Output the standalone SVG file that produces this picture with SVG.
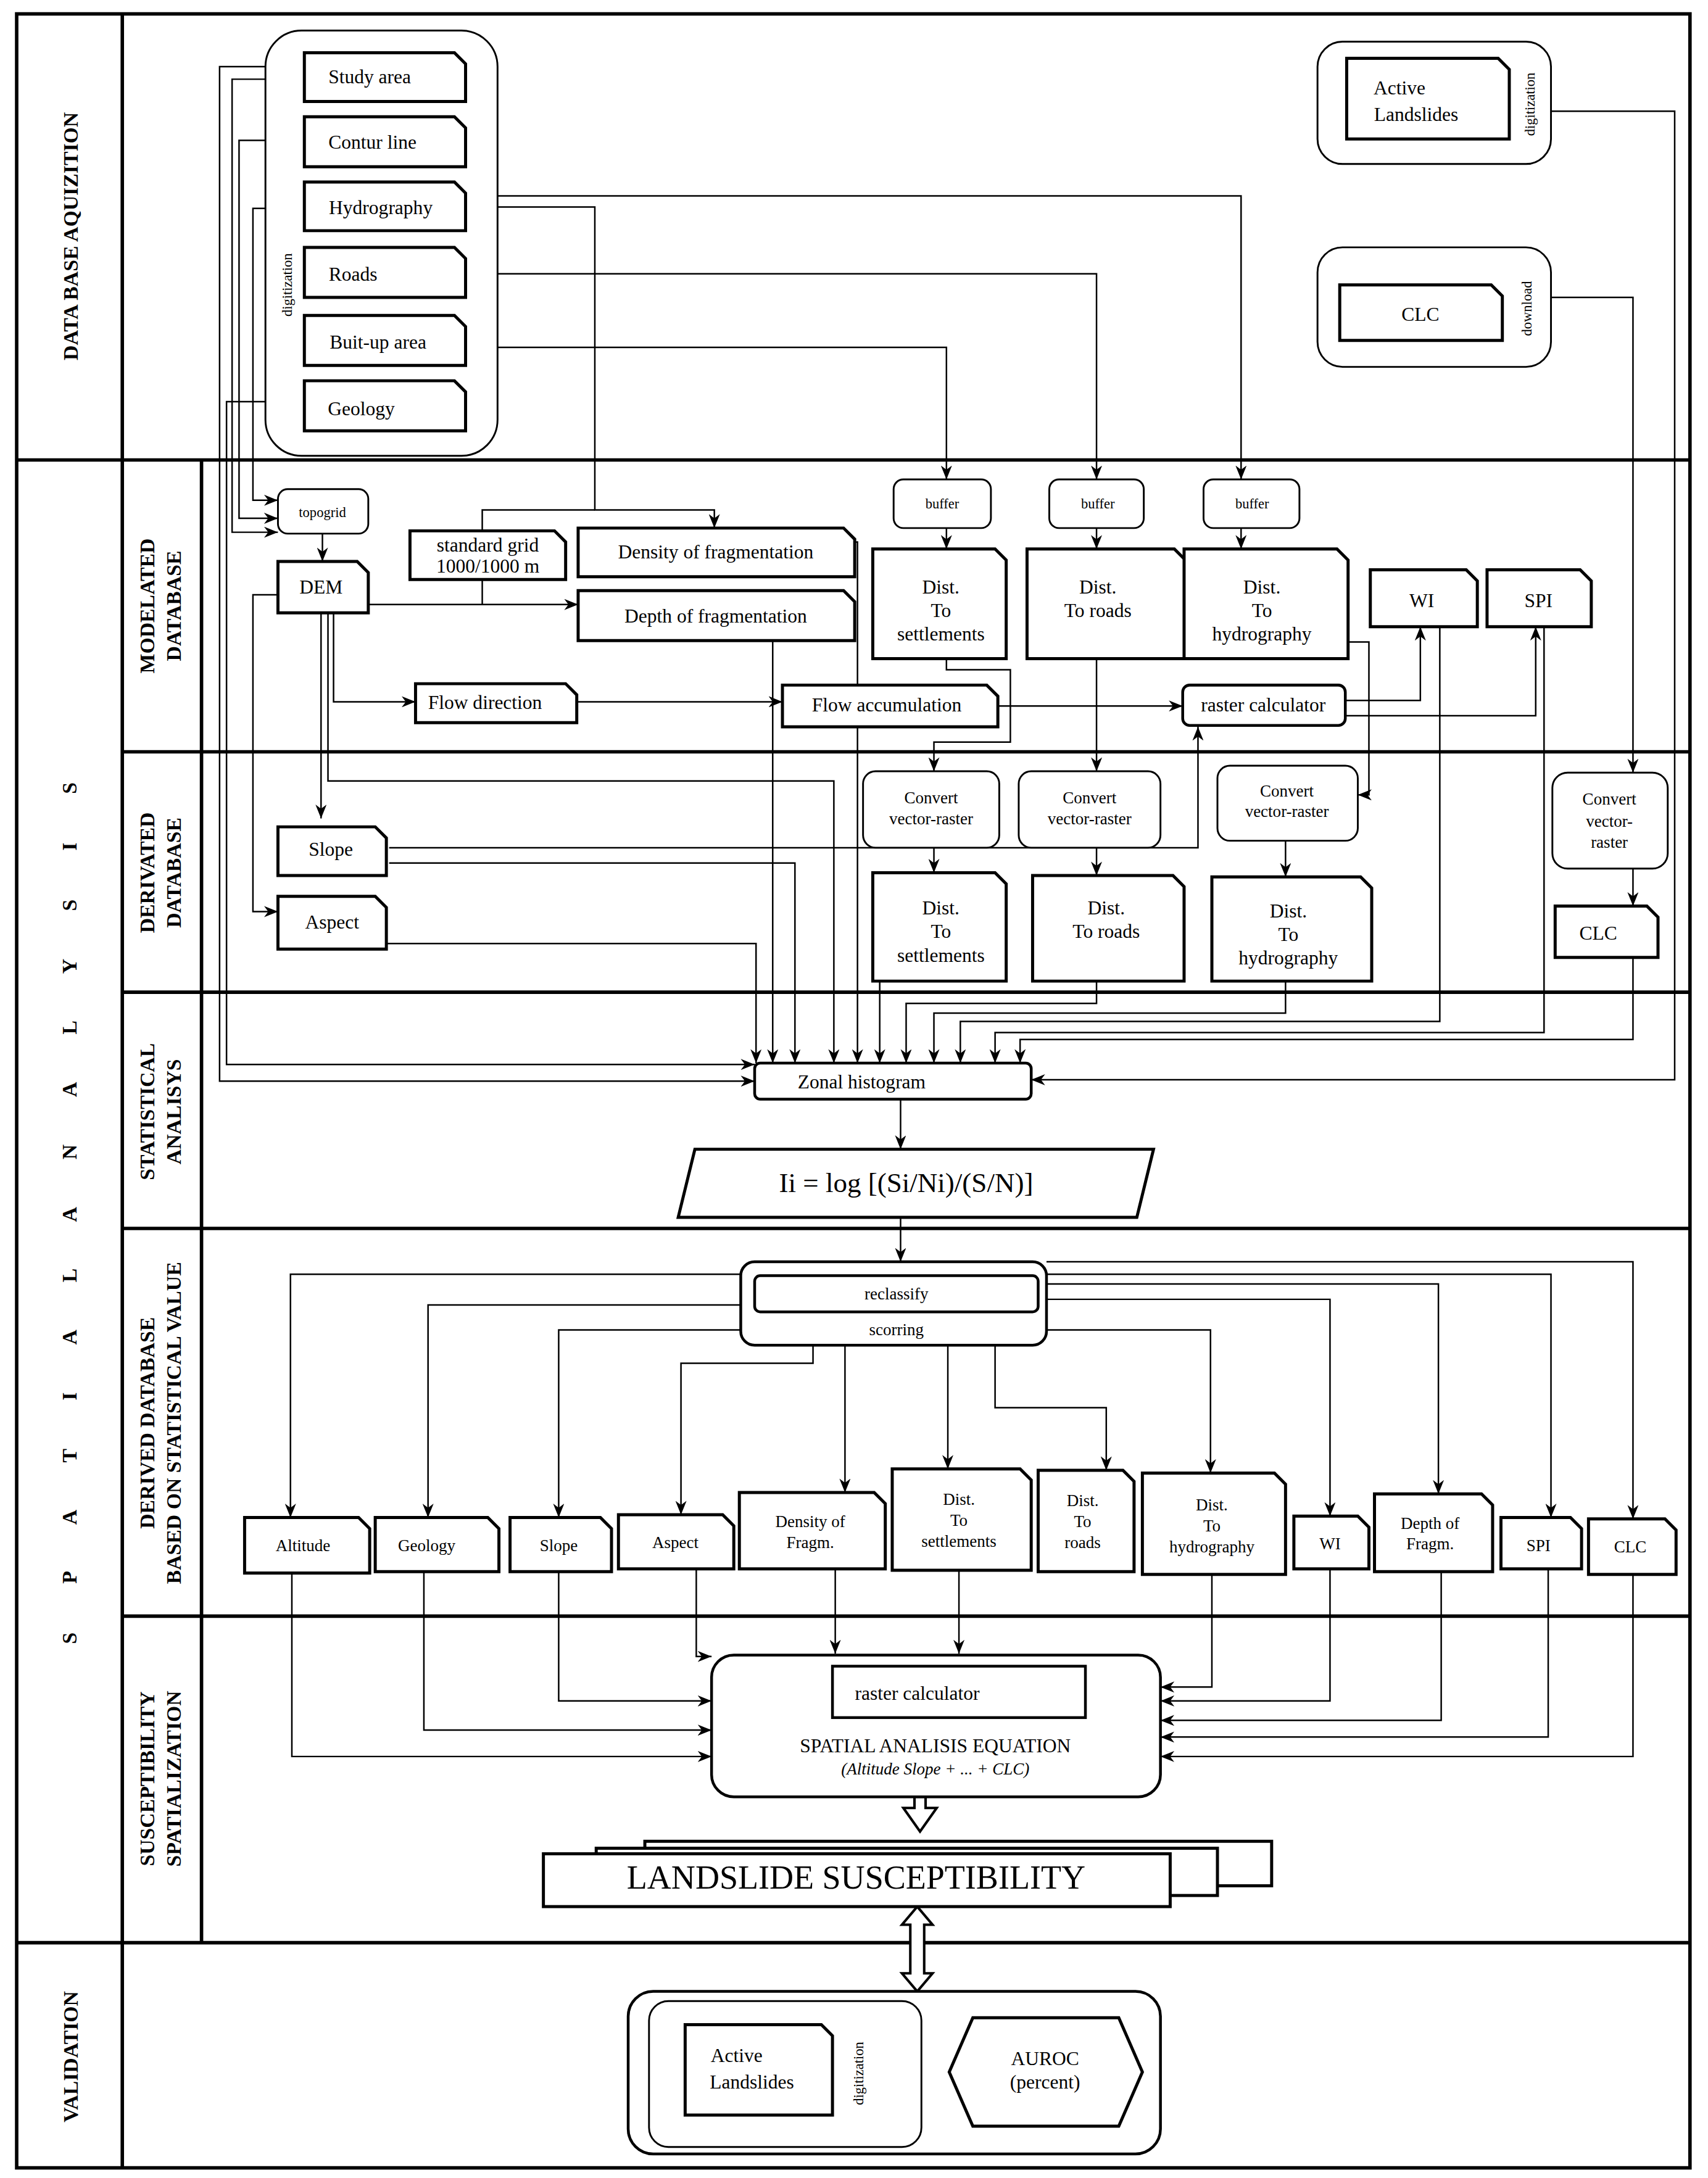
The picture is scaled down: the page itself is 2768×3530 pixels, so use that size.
<svg xmlns="http://www.w3.org/2000/svg" width="2768" height="3530" viewBox="0 0 2768 3530">
<defs>
<marker id="a" viewBox="0 0 10 8" markerWidth="10" markerHeight="8" refX="10" refY="4" orient="auto" markerUnits="userSpaceOnUse"><path d="M0,0 L10,4 L0,8 L3,4 Z" fill="#000"/></marker>
<style>
text{font-family:"Liberation Serif","Times New Roman",serif;fill:#000;text-anchor:middle}
.lab{font-weight:bold;font-size:15px}
.n{font-size:14px}
.s{font-size:12px}
.xs{font-size:10px}
.card{fill:#fff;stroke:#000;stroke-width:2.2}
.rr{fill:#fff;stroke:#000;stroke-width:1.3}
.rb{fill:#fff;stroke:#000;stroke-width:2}
.c path,.c line,.c polyline{fill:none;stroke:#000;stroke-width:1.1}
.ar{marker-end:url(#a)}
.frame{fill:none;stroke:#000;stroke-width:2.5}
</style>
</defs>
<rect width="2768" height="3530" fill="#fff"/>
<g transform="scale(2.25228)">
<g id="frame" class="frame">
<rect x="12" y="10" width="1204" height="1550"/>
<line x1="88" y1="10" x2="88" y2="1560"/>
<line x1="145" y1="331" x2="145" y2="1398"/>
<line x1="12" y1="331" x2="1216" y2="331"/>
<line x1="88" y1="541" x2="1216" y2="541"/>
<line x1="88" y1="714" x2="1216" y2="714"/>
<line x1="88" y1="884" x2="1216" y2="884"/>
<line x1="88" y1="1163" x2="1216" y2="1163"/>
<line x1="12" y1="1398" x2="1216" y2="1398"/>
</g>
<g id="labels" class="lab">
<text transform="translate(56,170) rotate(-90)">DATA BASE AQUIZITION</text>
<text transform="translate(55,873) rotate(-90)" textLength="620" lengthAdjust="spacing">S P A T I A L   A N A L Y S I S</text>
<text transform="translate(56,1480) rotate(-90)">VALIDATION</text>
<text transform="translate(111,436) rotate(-90)">MODELATED</text>
<text transform="translate(130,436) rotate(-90)">DATABASE</text>
<text transform="translate(111,628) rotate(-90)">DERIVATED</text>
<text transform="translate(130,628) rotate(-90)">DATABASE</text>
<text transform="translate(111,800) rotate(-90)">STATISTICAL</text>
<text transform="translate(130,800) rotate(-90)">ANALISYS</text>
<text transform="translate(111,1024) rotate(-90)">DERIVED DATABASE</text>
<text transform="translate(130,1024) rotate(-90)">BASED ON STATISTICAL VALUE</text>
<text transform="translate(111,1280) rotate(-90)">SUSCEPTIBILITY</text>
<text transform="translate(130,1280) rotate(-90)">SPATIALIZATION</text>
</g>

<g id="connectors" class="c">
<!-- left inputs -->
<polyline class="ar" points="219,48 158,48 158,778 543,778"/>
<polyline class="ar" points="219,57 167,57 167,383 200,383"/>
<polyline class="ar" points="219,101 172,101 172,373 200,373"/>
<polyline class="ar" points="219,150 182,150 182,360 200,360"/>
<polyline class="ar" points="219,289 163,289 163,766 543,766"/>
<polyline class="ar" points="335,149 428,149 428,367 514,367 514,380"/>
<polyline points="347,382 347,367 428,367"/>
<polyline class="ar" points="335,141 893,141 893,345"/>
<polyline class="ar" points="335,197 789,197 789,345"/>
<polyline class="ar" points="335,250 681,250 681,345"/>
<polyline class="ar" points="1116,80 1205,80 1205,777 742,777"/>
<polyline class="ar" points="1116,214 1175,214 1175,556"/>
<!-- modelated -->
<line class="ar" x1="232" y1="384" x2="232" y2="404"/>
<polyline class="ar" points="265,435 416,435"/>
<polyline points="347,417 347,435"/>
<polyline class="ar" points="200,428 182,428 182,656 200,656"/>
<polyline class="ar" points="231,441 231,589"/>
<polyline class="ar" points="236,441 236,562 600,562 600,765"/>
<polyline class="ar" points="240,441 240,505 299,505"/>
<polyline class="ar" points="415,505 563,505"/>
<polyline class="ar" points="718,508 851,508"/>
<polyline class="ar" points="968,504 1022,504 1022,451"/>
<polyline class="ar" points="968,515 1105,515 1105,451"/>
<line class="ar" x1="681" y1="380" x2="681" y2="395"/>
<line class="ar" x1="789" y1="380" x2="789" y2="395"/>
<line class="ar" x1="893" y1="380" x2="893" y2="395"/>
<polyline class="ar" points="681,474 681,482 727,482 727,534 672,534 672,555"/>
<line class="ar" x1="789" y1="474" x2="789" y2="555"/>
<polyline class="ar" points="970,462 985,462 985,572 977,572"/>
<polyline class="ar" points="556,461 556,765"/>
<polyline class="ar" points="615,390 617,390 617,765"/>
<!-- derivated -->
<polyline class="ar" points="280,610 862,610 862,523"/>
<polyline class="ar" points="280,621 572,621 572,765"/>
<polyline class="ar" points="278,679 544,679 544,765"/>
<line class="ar" x1="672" y1="610" x2="672" y2="628"/>
<line class="ar" x1="789" y1="610" x2="789" y2="630"/>
<line class="ar" x1="925" y1="605" x2="925" y2="631"/>
<line class="ar" x1="1175" y1="625" x2="1175" y2="652"/>
<polyline class="ar" points="633,706 633,765"/>
<polyline class="ar" points="789,706 789,722 652,722 652,765"/>
<polyline class="ar" points="925,706 925,729 672,729 672,765"/>
<polyline class="ar" points="1036,451 1036,735 691,735 691,765"/>
<polyline class="ar" points="1111,451 1111,743 716,743 716,765"/>
<polyline class="ar" points="1175,689 1175,748 734,748 734,765"/>
<line class="ar" x1="648" y1="791" x2="648" y2="827"/>
<line class="ar" x1="648" y1="876" x2="648" y2="908"/>
<!-- reclassify outputs -->
<polyline class="ar" points="533,917 209,917 209,1092"/>
<polyline class="ar" points="533,939 308,939 308,1092"/>
<polyline class="ar" points="533,957 402,957 402,1092"/>
<polyline class="ar" points="585,968 585,981 490,981 490,1090"/>
<polyline class="ar" points="608,968 608,1074"/>
<polyline class="ar" points="682,968 682,1057"/>
<polyline class="ar" points="716,968 716,1013 796,1013 796,1058"/>
<polyline class="ar" points="753,957 871,957 871,1060"/>
<polyline class="ar" points="753,935 957,935 957,1091"/>
<polyline class="ar" points="753,924 1035,924 1035,1075"/>
<polyline class="ar" points="753,917 1116,917 1116,1092"/>
<polyline class="ar" points="753,908 1175,908 1175,1093"/>
<!-- into raster calculator -->
<polyline class="ar" points="501,1129 501,1192 512,1192"/>
<line class="ar" x1="601" y1="1129" x2="601" y2="1190"/>
<line class="ar" x1="690" y1="1130" x2="690" y2="1190"/>
<polyline class="ar" points="402,1131 402,1224 512,1224"/>
<polyline class="ar" points="305,1131 305,1245 512,1245"/>
<polyline class="ar" points="210,1132 210,1264 512,1264"/>
<polyline class="ar" points="872,1133 872,1214 835,1214"/>
<polyline class="ar" points="957,1129 957,1224 835,1224"/>
<polyline class="ar" points="1037,1131 1037,1238 835,1238"/>
<polyline class="ar" points="1114,1129 1114,1250 835,1250"/>
<polyline class="ar" points="1175,1133 1175,1264 835,1264"/>
<polyline class="ar" points="599,1490 683,1490"/>
</g>
<g id="bigarrows" fill="#fff" stroke="#000" stroke-width="1.8">
<path d="M658,1293 H666 V1301 H674 L662,1318 L650,1301 H658 Z"/>
<path d="M660,1372 L671,1385 H665 V1420 H671 L660,1433 L649,1420 H655 V1385 H649 Z"/>
</g>

<g id="acq">
<rect x="191" y="22" width="167" height="306" rx="26" class="rr"/>
<text class="xs" transform="translate(210,205) rotate(-90)">digitization</text>
<path class="card" d="M219,38 H327 L335,46 V73 H219 Z"/><text class="n" x="266" y="60">Study area</text>
<path class="card" d="M219,84 H327 L335,92 V120 H219 Z"/><text class="n" x="268" y="107">Contur line</text>
<path class="card" d="M219,131 H327 L335,139 V166 H219 Z"/><text class="n" x="274" y="154">Hydrography</text>
<path class="card" d="M219,178 H327 L335,186 V214 H219 Z"/><text class="n" x="254" y="202">Roads</text>
<path class="card" d="M219,227 H327 L335,235 V263 H219 Z"/><text class="n" x="272" y="251">Buit-up area</text>
<path class="card" d="M219,274 H327 L335,282 V310 H219 Z"/><text class="n" x="260" y="299">Geology</text>
</g>
<g id="active1">
<rect x="948" y="30" width="168" height="88" rx="18" class="rr"/>
<path class="card" d="M969,42 H1078 L1086,50 V100 H969 Z"/>
<text class="n" x="1007" y="68">Active</text><text class="n" x="1019" y="87">Landslides</text>
<text class="xs" transform="translate(1104,75) rotate(-90)">digitization</text>
</g>
<g id="clc1">
<rect x="948" y="178" width="168" height="86" rx="18" class="rr"/>
<path class="card" d="M964,205 H1073 L1081,213 V245 H964 Z"/>
<text class="n" x="1022" y="231">CLC</text>
<text class="xs" transform="translate(1102,222) rotate(-90)">download</text>
</g>

<g id="modelated">
<rect x="200" y="352" width="65" height="32" rx="7" class="rr"/><text class="xs" x="232" y="372">topogrid</text>
<path class="card" d="M200,404 H257 L265,412 V441 H200 Z"/><text class="n" x="231" y="427">DEM</text>
<path class="card" d="M295,382 H399 L407,390 V417 H295 Z"/><text class="n" x="351" y="397">standard grid</text><text class="n" x="351" y="412">1000/1000 m</text>
<path class="card" d="M416,380 H607 L615,388 V415 H416 Z"/><text class="n" x="515" y="402">Density of fragmentation</text>
<path class="card" d="M416,425 H607 L615,433 V461 H416 Z"/><text class="n" x="515" y="448">Depth of fragmentation</text>
<path class="card" d="M299,492 H407 L415,500 V520 H299 Z"/><text class="n" x="349" y="510">Flow direction</text>
<path class="card" d="M563,493 H710 L718,501 V523 H563 Z"/><text class="n" x="638" y="512">Flow accumulation</text>
<rect x="643" y="345" width="70" height="35" rx="7" class="rr"/><text class="xs" x="678" y="366">buffer</text>
<rect x="755" y="345" width="68" height="35" rx="7" class="rr"/><text class="xs" x="790" y="366">buffer</text>
<rect x="866" y="345" width="69" height="35" rx="7" class="rr"/><text class="xs" x="901" y="366">buffer</text>
<path class="card" d="M628,395 H716 L724,403 V474 H628 Z"/><text class="n" x="677" y="427">Dist.</text><text class="n" x="677" y="444">To</text><text class="n" x="677" y="461">settlements</text>
<path class="card" d="M739,395 H845 L853,403 V474 H739 Z"/><text class="n" x="790" y="427">Dist.</text><text class="n" x="790" y="444">To roads</text>
<path class="card" d="M852,395 H962 L970,403 V474 H852 Z"/><text class="n" x="908" y="427">Dist.</text><text class="n" x="908" y="444">To</text><text class="n" x="908" y="461">hydrography</text>
<path class="card" d="M986,410 H1055 L1063,418 V451 H986 Z"/><text class="n" x="1023" y="437">WI</text>
<path class="card" d="M1070,410 H1137 L1145,418 V451 H1070 Z"/><text class="n" x="1107" y="437">SPI</text>
<rect x="851" y="493" width="117" height="29" rx="5" class="rb"/><text class="n" x="909" y="512">raster calculator</text>
</g>

<g id="derivated">
<rect x="621" y="555" width="98" height="55" rx="9" class="rr"/><text class="s" x="670" y="578">Convert</text><text class="s" x="670" y="593">vector-raster</text>
<rect x="733" y="555" width="102" height="55" rx="9" class="rr"/><text class="s" x="784" y="578">Convert</text><text class="s" x="784" y="593">vector-raster</text>
<rect x="876" y="551" width="101" height="54" rx="9" class="rr"/><text class="s" x="926" y="573">Convert</text><text class="s" x="926" y="588">vector-raster</text>
<rect x="1117" y="556" width="83" height="69" rx="11" class="rr"/><text class="s" x="1158" y="579">Convert</text><text class="s" x="1158" y="595">vector-</text><text class="s" x="1158" y="610">raster</text>
<path class="card" d="M200,595 H270 L278,603 V630 H200 Z"/><text class="n" x="238" y="616">Slope</text>
<path class="card" d="M200,645 H270 L278,653 V683 H200 Z"/><text class="n" x="239" y="668">Aspect</text>
<path class="card" d="M628,628 H716 L724,636 V706 H628 Z"/><text class="n" x="677" y="658">Dist.</text><text class="n" x="677" y="675">To</text><text class="n" x="677" y="692">settlements</text>
<path class="card" d="M743,630 H844 L852,638 V706 H743 Z"/><text class="n" x="796" y="658">Dist.</text><text class="n" x="796" y="675">To roads</text>
<path class="card" d="M872,631 H979 L987,639 V706 H872 Z"/><text class="n" x="927" y="660">Dist.</text><text class="n" x="927" y="677">To</text><text class="n" x="927" y="694">hydrography</text>
<path class="card" d="M1119,652 H1185 L1193,660 V689 H1119 Z"/><text class="n" x="1150" y="676">CLC</text>
</g>

<g id="stat">
<rect x="543" y="765" width="199" height="26" rx="4" class="rb"/><text class="n" x="620" y="783">Zonal   histogram</text>
<path class="card" d="M500,827 H830 L818,876 H488 Z"/><text x="652" y="858" style="font-size:20px">Ii =  log [(Si/Ni)/(S/N)]</text>
</g>

<g id="reclass">
<rect x="533" y="908" width="220" height="60" rx="10" class="rb"/>
<rect x="543" y="918" width="204" height="26" rx="4" class="rb"/>
<text class="s" x="645" y="935">reclassify</text>
<text class="s" x="645" y="961">scorring</text>
</g>
<g id="scored" class="s">
<path class="card" d="M176,1092 H258 L266,1100 V1132 H176 Z"/><text x="218" y="1116">Altitude</text>
<path class="card" d="M270,1092 H351 L359,1100 V1131 H270 Z"/><text x="307" y="1116">Geology</text>
<path class="card" d="M367,1092 H432 L440,1100 V1131 H367 Z"/><text x="402" y="1116">Slope</text>
<path class="card" d="M445,1090 H520 L528,1098 V1129 H445 Z"/><text x="486" y="1114">Aspect</text>
<path class="card" d="M532,1074 H629 L637,1082 V1129 H532 Z"/><text x="583" y="1099">Density of</text><text x="583" y="1114">Fragm.</text>
<path class="card" d="M642,1057 H734 L742,1065 V1130 H642 Z"/><text x="690" y="1083">Dist.</text><text x="690" y="1098">To</text><text x="690" y="1113">settlements</text>
<path class="card" d="M747,1058 H808 L816,1066 V1131 H747 Z"/><text x="779" y="1084">Dist.</text><text x="779" y="1099">To</text><text x="779" y="1114">roads</text>
<path class="card" d="M822,1060 H917 L925,1068 V1133 H822 Z"/><text x="872" y="1087">Dist.</text><text x="872" y="1102">To</text><text x="872" y="1117">hydrography</text>
<path class="card" d="M931,1091 H977 L985,1099 V1129 H931 Z"/><text x="957" y="1115">WI</text>
<path class="card" d="M989,1075 H1066 L1074,1083 V1131 H989 Z"/><text x="1029" y="1100">Depth of</text><text x="1029" y="1115">Fragm.</text>
<path class="card" d="M1080,1092 H1130 L1138,1100 V1129 H1080 Z"/><text x="1107" y="1116">SPI</text>
<path class="card" d="M1143,1093 H1198 L1206,1101 V1133 H1143 Z"/><text x="1173" y="1117">CLC</text>
</g>

<g id="equation">
<rect x="512" y="1191" width="323" height="102" rx="16" class="rb"/>
<rect x="599" y="1199" width="182" height="37" class="rb"/>
<text class="n" x="660" y="1223">raster calculator</text>
<text class="n" x="673" y="1261">SPATIAL ANALISIS EQUATION</text>
<text class="s" x="673" y="1277" font-style="italic">(Altitude  Slope + ... + CLC)</text>
</g>
<g id="suscept">
<rect x="464" y="1325" width="451" height="32" class="card" stroke-width="1.5"/>
<rect x="429" y="1330" width="447" height="34" class="card" stroke-width="1.5"/>
<rect x="391" y="1334" width="451" height="38" class="card"/>
<text x="616" y="1359" style="font-size:24px">LANDSLIDE SUSCEPTIBILITY</text>
</g>
<g id="validation">
<rect x="452" y="1433" width="383" height="117" rx="18" class="rb"/>
<rect x="467" y="1440" width="196" height="105" rx="14" class="rr"/>
<path class="card" d="M493,1457 H591 L599,1465 V1522 H493 Z"/>
<text class="n" x="530" y="1484">Active</text><text class="n" x="541" y="1503">Landslides</text>
<text class="xs" transform="translate(621,1492) rotate(-90)">digitization</text>
<path class="card" d="M700,1452 H805 L822,1491 L805,1530 H700 L683,1491 Z"/>
<text class="n" x="752" y="1486">AUROC</text><text class="n" x="752" y="1503">(percent)</text>
</g>
</g>
</svg>
